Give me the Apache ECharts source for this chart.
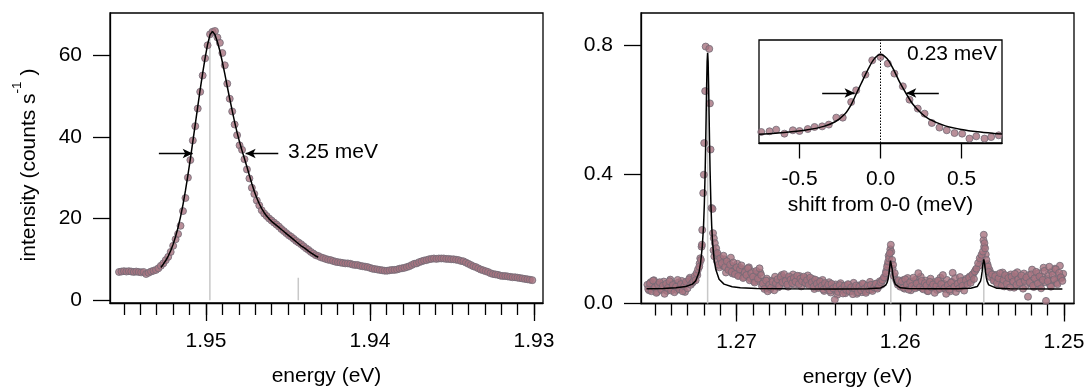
<!DOCTYPE html>
<html>
<head>
<meta charset="utf-8">
<script src="https://cdn.jsdelivr.net/npm/echarts@6.0.0/dist/echarts.min.js"></script>
<style>
  html, body { margin: 0; padding: 0; background: #fff; }
  #chart { width: 1086px; height: 390px; }
</style>
</head>
<body>
<div id="chart"></div>
<script>
// ---------- Left panel: broad emission band ----------
const leftEnergy = [
  1.95530,1.95515,1.95500,1.95485,1.95470,1.95455,1.95440,1.95425,1.95410,1.95395,
  1.95380,1.95365,1.95350,1.95335,1.95320,1.95305,1.95290,1.95275,1.95260,1.95245,
  1.95230,1.95215,1.95200,1.95185,1.95170,1.95155,1.95140,1.95125,1.95110,1.95095,
  1.95080,1.95065,1.95050,1.95035,1.95020,1.95005,1.94990,1.94975,1.94960,1.94945,
  1.94930,1.94915,1.94900,1.94885,1.94870,1.94855,1.94840,1.94825,1.94810,1.94795,
  1.94780,1.94765,1.94750,1.94735,1.94720,1.94705,1.94690,1.94675,1.94660,1.94645,
  1.94630,1.94615,1.94600,1.94585,1.94570,1.94555,1.94540,1.94525,1.94510,1.94495,
  1.94480,1.94465,1.94450,1.94435,1.94420,1.94405,1.94390,1.94375,1.94360,1.94345,
  1.94330,1.94315,1.94300,1.94285,1.94270,1.94255,1.94240,1.94225,1.94210,1.94195,
  1.94180,1.94165,1.94150,1.94135,1.94120,1.94105,1.94090,1.94075,1.94060,1.94045,
  1.94030,1.94015,1.94000,1.93985,1.93970,1.93955,1.93940,1.93925,1.93910,1.93895,
  1.93880,1.93865,1.93850,1.93835,1.93820,1.93805,1.93790,1.93775,1.93760,1.93745,
  1.93730,1.93715,1.93700,1.93685,1.93670,1.93655,1.93640,1.93625,1.93610,1.93595,
  1.93580,1.93565,1.93550,1.93535,1.93520,1.93505,1.93490,1.93475,1.93460,1.93445,
  1.93430,1.93415,1.93400,1.93385,1.93370,1.93355,1.93340,1.93325,1.93310,1.93295,
  1.93280,1.93265,1.93250,1.93235,1.93220,1.93205,1.93190,1.93175,1.93160,1.93145,
  1.93130,1.93115,1.93100,1.93085,1.93070,1.93055,1.93040,1.93025,1.93010
];
const leftIntensity = [
  6.9,7.0,7.1,7.0,7.1,7.0,6.9,7.0,6.9,6.8,
  6.9,6.4,6.7,7.0,7.2,7.4,7.8,8.4,9.0,9.8,
  10.6,11.8,13.3,14.9,16.2,18.2,21.8,25.0,30.0,34.3,
  39.1,42.6,46.9,51.0,55.0,59.2,62.4,65.1,65.7,65.9,
  64.3,63.0,60.5,57.5,53.0,49.3,46.2,43.0,40.4,37.9,
  36.8,34.5,32.0,29.8,27.5,26.0,24.4,23.2,22.0,21.2,
  20.6,20.0,19.5,19.0,18.5,18.0,17.4,16.9,16.4,15.9,
  15.5,15.0,14.5,14.1,13.7,13.2,12.7,12.3,11.8,11.4,
  11.0,10.8,10.5,10.3,10.1,9.9,9.8,9.6,9.4,9.3,
  9.2,9.1,9.0,9.0,8.9,8.7,8.6,8.6,8.4,8.3,
  8.2,8.1,7.9,7.7,7.6,7.5,7.4,7.3,7.2,7.2,
  7.3,7.4,7.4,7.5,7.7,7.8,7.9,8.1,8.3,8.6,
  8.9,9.0,9.3,9.5,9.7,9.8,10.0,10.1,10.2,10.1,
  10.2,10.2,10.2,10.1,10.1,10.0,10.0,9.9,9.8,9.6,
  9.5,9.2,8.9,8.6,8.3,8.1,7.8,7.5,7.3,7.1,
  6.9,6.6,6.4,6.3,6.2,6.0,5.9,5.9,5.8,5.7,
  5.6,5.6,5.5,5.4,5.3,5.2,5.1,5.0,4.9
];
// fitted profile, sampled on leftEnergy[17] .. leftEnergy[81]
const leftFitRange = [17, 82];
const leftFit = [
  8.0,8.8,9.7,10.8,12.1,13.7,15.6,17.8,20.4,23.4,
  26.8,30.6,34.6,38.8,43.1,47.4,51.6,55.6,59.3,62.6,
  65.0,65.8,65.0,63.2,61.0,58.3,55.4,52.3,49.3,46.4,
  43.6,41.0,38.7,36.6,34.6,32.6,30.5,28.5,26.6,25.0,
  23.6,22.4,21.4,20.6,19.9,19.3,18.8,18.3,17.8,17.3,
  16.8,16.3,15.8,15.3,14.8,14.3,13.8,13.3,12.9,12.5,
  12.0,11.6,11.2,10.8,10.5
];
const leftStickEnergy = [1.94976, 1.94437];
const leftStickHeight = [65.8, 5.5];
const leftHalfMax = 35.9;
const leftArrowTails = [1.95287, 1.94559];
const leftArrowTips = [1.95081, 1.94758];
const leftWidthLabel = '3.25 meV';
const leftXMajor = [1.95, 1.94, 1.93];
const leftXMinor = [1.955,1.954,1.953,1.952,1.951,1.950,1.949,1.948,1.947,1.946,1.945,1.944,1.943,
                    1.942,1.941,1.940,1.939,1.938,1.937,1.936,1.935,1.934,1.933,1.932,1.931,1.930];
const leftYTicks = [0, 20, 40, 60];

// ---------- Right panel: narrow zero-phonon line and replicas ----------
// first scan
const rightEnergy = [
  1.2754,1.2753,1.2752,1.2751,1.2750,1.2749,1.2748,1.2747,1.2746,1.2745,
  1.2744,1.2743,1.2742,1.2741,1.2740,1.2739,1.2738,1.2737,1.2736,1.2735,
  1.2734,1.2733,1.2732,1.2731,1.2730,1.2729,1.2728,
  1.2727,1.27264,1.27256,1.27250,1.27244,1.27236,1.27228,1.27222,1.27218,1.27214,
  1.27212,1.27210,1.27204,1.27200,1.27198,1.27192,1.27189,1.27167,1.27163,1.27159,
  1.27153,1.27147,1.27144,1.27139,1.27133,1.27125,1.27117,1.27110,1.27100,1.27090,
  1.2708,1.2707,1.2706,1.2705,1.2704,1.2703,1.2702,1.2701,1.2700,1.2699,
  1.2698,1.2697,1.2696,1.2695,1.2694,1.2693,1.2692,1.2691,1.2690,1.2689,
  1.2688,1.2687,1.2686,1.2685,
  1.2684,1.2683,1.2682,1.2681,1.2680,1.2679,1.2678,1.2677,1.2676,1.2675,
  1.2674,1.2673,1.2672,1.2671,1.2670,1.2669,1.2668,1.2667,1.2666,1.2665,
  1.2664,1.2663,1.2662,1.2661,1.2660,1.2659,1.2658,1.2657,1.2656,1.2655,
  1.2654,1.2653,1.2652,1.2651,1.2650,1.2649,1.2648,1.2647,1.2646,1.2645,
  1.2644,1.2643,1.2642,1.2641,1.2640,1.2639,1.2638,1.2637,1.2636,1.2635,
  1.2634,1.2633,1.2632,1.2631,1.2630,1.2629,1.2628,1.2627,1.2626,1.2625,
  1.2624,1.2623,1.2622,1.2621,1.2620,1.2619,1.2618,1.2617,1.2616,1.2615,
  1.2614,1.2613,1.2612,1.2611,1.2610,
  1.26089,1.26081,1.26074,1.26068,1.26064,1.26058,1.26050,1.26044,1.26034,1.2602,
  1.2601,1.2600,
  1.2599,1.2598,1.2597,1.2596,1.2595,1.2594,1.2593,1.2592,1.2591,1.2590,
  1.2589,1.2588,1.2587,1.2586,1.2585,1.2584,1.2583,1.2582,1.2581,1.2580,
  1.2579,1.2578,1.2577,1.2576,1.2575,1.2574,1.2573,1.2572,1.2571,1.2570,
  1.2569,1.2568,1.2567,1.2566,1.2565,1.2564,1.2563,1.2562,1.2561,1.2560,
  1.2559,1.2558,1.2557,1.2556,1.2555,
  1.25545,1.25535,1.25525,1.25515,1.25504,1.25495,1.25490,1.25486,1.25482,1.25474,
  1.25464,1.2546,1.2545,1.2544,1.2543,
  1.2542,1.2541,1.2540,1.2539,1.2538,1.2537,1.2536,1.2535,1.2534,1.2533,
  1.2532,1.2531,1.2530,1.2529,1.2528,1.2527,1.2526,1.2525,1.2524,1.2523,
  1.2522,1.2521,1.2520,1.2519,1.2518,1.2517,1.2516,1.2515,1.2514,1.2513,
  1.2512,1.2511,1.2510,1.2509,1.2508,1.2507,1.2506,1.2505,1.2504,1.2503,
  1.2502,1.2501
];
const rightIntensity = [
  0.045,0.062,0.038,0.071,0.050,0.033,0.058,0.066,0.042,0.055,
  0.030,0.061,0.048,0.069,0.040,0.057,0.035,0.052,0.073,0.044,
  0.060,0.038,0.054,0.067,0.047,0.075,0.058,
  0.064,0.068,0.085,0.072,0.094,0.105,0.114,0.140,0.135,0.176,
  0.182,0.228,0.342,0.399,0.497,0.658,0.796,0.789,0.620,0.477,
  0.296,0.293,0.218,0.202,0.187,0.171,0.156,0.120,0.140,0.125,
  0.148,0.113,0.131,0.104,0.120,0.098,0.127,0.091,0.112,0.085,
  0.106,0.118,0.079,0.097,0.088,0.109,0.072,0.094,0.083,0.065,
  0.101,0.077,0.109,0.088,
  0.062,0.045,0.071,0.038,0.058,0.049,0.067,0.041,0.063,0.075,
  0.054,0.082,0.066,0.091,0.070,0.059,0.084,0.074,0.063,0.079,
  0.068,0.086,0.060,0.077,0.069,0.083,0.064,0.072,0.057,0.080,
  0.066,0.052,0.074,0.061,0.048,0.068,0.055,0.043,0.063,0.050,
  0.058,0.040,0.061,0.047,0.012,0.053,0.036,0.057,0.044,0.031,
  0.055,0.042,0.060,0.038,0.050,0.029,0.047,0.056,0.035,0.052,
  0.041,0.062,0.045,0.033,0.055,0.043,0.058,0.039,0.050,0.061,
  0.046,0.054,0.066,0.072,0.081,
  0.094,0.114,0.130,0.140,0.156,0.182,0.135,0.120,0.094,0.066,
  0.072,0.052,
  0.068,0.049,0.075,0.058,0.043,0.066,0.054,0.080,0.047,0.062,
  0.094,0.051,0.070,0.044,0.063,0.056,0.038,0.067,0.050,0.059,
  0.033,0.054,0.071,0.045,0.060,0.088,0.048,0.030,0.057,0.043,
  0.065,0.095,0.052,0.036,0.061,0.047,0.069,0.055,0.040,0.072,
  0.058,0.080,0.064,0.089,0.076,
  0.099,0.108,0.125,0.140,0.151,0.161,0.213,0.187,0.171,0.135,
  0.114,0.098,0.082,0.090,0.071,
  0.085,0.063,0.078,0.094,0.056,0.073,0.088,0.061,0.079,0.050,
  0.083,0.068,0.092,0.058,0.075,0.064,0.087,0.046,0.070,0.081,
  0.021,0.066,0.090,0.055,0.078,0.098,0.062,0.084,0.047,0.073,
  0.101,0.008,0.069,0.114,0.052,0.089,0.075,0.106,0.060,0.095,
  0.081,0.070
];
// second scan, interleaved with the first
const rightScan2Energy = [
  1.27545,1.27535,1.27525,1.27515,1.27505,1.27495,1.27485,1.27475,1.27465,1.27455,
  1.27445,1.27435,1.27425,1.27415,1.27405,1.27395,1.27385,1.27375,1.27365,1.27355,
  1.27345,1.27335,1.27325,1.27315,1.27305,1.27295,1.27285,
  1.27275,1.27260,1.27240,1.27226,
  1.27141,1.27136,1.27128,1.27120,1.27113,1.27105,1.27095,
  1.27085,1.27075,1.27065,1.27055,1.27045,1.27035,1.27025,1.27015,1.27005,1.26995,
  1.26985,1.26975,1.26965,1.26955,1.26945,1.26935,1.26925,1.26915,1.26905,1.26895,
  1.26885,1.26875,1.26865,1.26855,
  1.26845,1.26835,1.26825,1.26815,1.26805,1.26795,1.26785,1.26775,1.26765,1.26755,
  1.26745,1.26735,1.26725,1.26715,1.26705,1.26695,1.26685,1.26675,1.26665,1.26655,
  1.26645,1.26635,1.26625,1.26615,1.26605,1.26595,1.26585,1.26575,1.26565,1.26555,
  1.26545,1.26535,1.26525,1.26515,1.26505,1.26495,1.26485,1.26475,1.26465,1.26455,
  1.26445,1.26435,1.26425,1.26415,1.26405,1.26395,1.26385,1.26375,1.26365,1.26355,
  1.26345,1.26335,1.26325,1.26315,1.26305,1.26295,1.26285,1.26275,1.26265,1.26255,
  1.26245,1.26235,1.26225,1.26215,1.26205,1.26195,1.26185,1.26175,1.26165,1.26155,
  1.26145,1.26135,1.26125,1.26115,1.26105,
  1.26095,1.26086,1.26077,1.26071,1.26061,1.26055,1.26047,1.26039,1.26025,1.26015,
  1.26005,
  1.25995,1.25985,1.25975,1.25965,1.25955,1.25945,1.25935,1.25925,1.25915,1.25905,
  1.25895,1.25885,1.25875,1.25865,1.25855,1.25845,1.25835,1.25825,1.25815,1.25805,
  1.25795,1.25785,1.25775,1.25765,1.25755,1.25745,1.25735,1.25725,1.25715,1.25705,
  1.25695,1.25685,1.25675,1.25665,1.25655,1.25645,1.25635,1.25625,1.25615,1.25605,
  1.25595,1.25585,1.25575,1.25565,
  1.25555,1.25540,1.25520,1.25510,1.25500,1.25492,1.25488,1.25478,1.25468,1.25455,
  1.25445,1.25435,
  1.25425,1.25415,1.25405,1.25395,1.25385,1.25375,1.25365,1.25355,1.25345,1.25335,
  1.25325,1.25315,1.25305,1.25295,1.25285,1.25275,1.25265,1.25255,1.25245,1.25235,
  1.25225,1.25215,1.25205,1.25195,1.25185,1.25175,1.25165,1.25155,1.25145,1.25135,
  1.25125,1.25115,1.25105,1.25095,1.25085,1.25075,1.25065,1.25055,1.25045,1.25035,
  1.25025,1.25015,1.25005
];
const rightScan2Intensity = [
  0.058,0.041,0.066,0.052,0.072,0.047,0.036,0.063,0.055,0.044,
  0.068,0.050,0.039,0.059,0.074,0.046,0.061,0.053,0.042,0.065,
  0.049,0.070,0.057,0.036,0.062,0.068,0.080,
  0.071,0.078,0.088,0.124,
  0.165,0.146,0.158,0.131,0.149,0.112,0.134,
  0.118,0.137,0.096,0.124,0.108,0.142,0.093,0.115,0.101,0.123,
  0.087,0.110,0.096,0.082,0.104,0.090,0.112,0.078,0.099,0.069,
  0.091,0.083,0.070,0.095,
  0.054,0.068,0.049,0.077,0.060,0.044,0.071,0.056,0.083,0.065,
  0.050,0.073,0.088,0.061,0.078,0.067,0.052,0.081,0.070,0.090,
  0.058,0.075,0.065,0.085,0.053,0.071,0.079,0.062,0.087,0.068,
  0.058,0.076,0.045,0.064,0.070,0.051,0.060,0.073,0.039,0.057,
  0.048,0.066,0.034,0.052,0.043,0.059,0.027,0.049,0.063,0.040,
  0.054,0.032,0.046,0.058,0.037,0.051,0.064,0.042,0.030,0.056,
  0.047,0.035,0.060,0.049,0.038,0.053,0.067,0.044,0.057,0.048,
  0.062,0.051,0.069,0.058,0.075,
  0.079,0.101,0.121,0.148,0.168,0.160,0.108,0.085,0.072,0.058,
  0.065,
  0.057,0.072,0.046,0.063,0.079,0.052,0.041,0.068,0.059,0.074,
  0.050,0.065,0.083,0.047,0.058,0.071,0.039,0.062,0.077,0.049,
  0.066,0.055,0.042,0.069,0.080,0.051,0.061,0.045,0.073,0.058,
  0.038,0.067,0.054,0.079,0.048,0.063,0.082,0.056,0.070,0.061,
  0.077,0.068,0.084,0.073,
  0.092,0.104,0.117,0.133,0.146,0.196,0.176,0.152,0.122,0.104,
  0.093,0.080,
  0.072,0.089,0.058,0.081,0.067,0.096,0.053,0.076,0.085,0.064,
  0.090,0.071,0.049,0.082,0.097,0.060,0.079,0.068,0.093,0.055,
  0.074,0.088,0.063,0.105,0.051,0.080,0.070,0.094,0.059,0.083,
  0.111,0.066,0.077,0.091,0.057,0.099,0.073,0.108,0.064,0.086,
  0.117,0.079,0.092
];
const rightFitEnergy = [
  1.2755,1.2745,1.2737,1.2731,1.2727,1.2725,1.2723,1.2722,1.2721,1.27202,
  1.27197,1.27192,1.27189,1.27186,1.27183,1.27180,1.27177,1.27174,1.27171,1.27168,
  1.27165,1.27162,1.27157,1.27152,1.27147,1.27137,1.27127,1.27107,1.27077,1.27027,
  1.26977,1.26877,1.2670,1.2640,1.2620,1.2612,1.2609,1.2608,1.26075,1.2607,
  1.26065,1.2606,1.26058,1.2605,1.26045,1.2604,1.2603,1.2600,1.2595,1.2580,
  1.2565,1.2557,1.2553,1.2552,1.2551,1.25505,1.2550,1.25495,1.2549,1.25485,
  1.2548,1.25475,1.2547,1.2546,1.2545,1.2541,1.2533,1.2501
];
const rightFit = [
  0.0460,0.0468,0.0485,0.0525,0.0600,0.0700,0.0960,0.1250,0.175,0.239,
  0.309,0.411,0.491,0.583,0.676,0.749,0.777,0.749,0.676,0.583,
  0.491,0.411,0.309,0.239,0.191,0.135,0.105,0.075,0.060,0.052,
  0.049,0.0465,0.0458,0.0452,0.0456,0.0483,0.0561,0.0656,0.0749,0.090,
  0.112,0.1326,0.135,0.1073,0.0864,0.0727,0.0590,0.0487,0.0461,0.0454,
  0.0455,0.0470,0.0526,0.0577,0.0693,0.0809,0.0993,0.1234,0.137,0.1234,
  0.0993,0.0809,0.0693,0.0577,0.0526,0.0470,0.0455,0.0451
];
const rightStickEnergy = [1.27177, 1.26058, 1.25490];
const rightStickHeight = [0.777, 0.135, 0.137];
const rightXMajor = [1.27, 1.26, 1.25];
const rightXMinor = [1.275,1.274,1.273,1.272,1.271,1.270,1.269,1.268,1.267,1.266,1.265,1.264,1.263,
                     1.262,1.261,1.260,1.259,1.258,1.257,1.256,1.255,1.254,1.253,1.252,1.251,1.250];
const rightYTicks = [0, 0.4, 0.8];

// ---------- Inset: zero-phonon line on a shift scale ----------
const insetShift = [
  -0.736,-0.685,-0.644,-0.593,-0.541,-0.500,-0.449,-0.407,-0.360,-0.319,
  -0.273,-0.233,-0.181,-0.150,-0.093,-0.051,0.000,0.045,0.086,0.138,
  0.179,0.230,0.272,0.317,0.364,0.409,0.457,0.504,0.549,0.591,
  0.642,0.683,0.730
];
const insetIntensity = [
  0.050,0.057,0.073,0.034,0.067,0.060,0.079,0.099,0.105,0.122,
  0.190,0.190,0.342,0.456,0.609,0.748,0.780,0.716,0.619,0.495,
  0.365,0.278,0.229,0.138,0.093,0.067,0.040,0.034,-0.014,0.008,
  -0.014,0.001,0.018
];
const insetFitShift = [
  -0.75,-0.65,-0.55,-0.45,-0.35,-0.28,-0.22,-0.18,-0.15,-0.12,-0.08,-0.04,0.00,
  0.04,0.08,0.12,0.16,0.20,0.25,0.30,0.40,0.50,0.60,0.70,0.75
];
const insetFit = [
  0.028,0.038,0.052,0.072,0.105,0.150,0.225,0.320,0.420,0.520,0.650,0.760,0.805,
  0.765,0.660,0.530,0.420,0.320,0.235,0.175,0.110,0.075,0.052,0.036,0.030
];
const insetHalfMax = 0.43;
const insetArrowTails = [-0.36, 0.36];
const insetArrowTips = [-0.16, 0.159];
const insetWidthLabel = '0.23 meV';
const insetXTicks = [-0.5, 0, 0.5];

// ---------- styling ----------
const FONT = '"Liberation Sans", Arial, Helvetica, sans-serif';
const FS = 21;
const BLACK = '#000';
const txt = (extra) => Object.assign({ color: BLACK, fontSize: FS, fontFamily: FONT }, extra || {});
const axisLineStyle = { color: BLACK, width: 1.3 };
const dotStyle = { color: '#a8737f', borderColor: '#726a76', borderWidth: 1 };

const pairs = (xs, ys) => xs.map((x, i) => [x, ys[i]]);

function energyAxes(grid, min, max, major, minor) {
  return [
    {
      gridIndex: grid, type: 'value', position: 'bottom', inverse: true, min, max,
      axisLine: { show: true, onZero: false, lineStyle: axisLineStyle },
      axisTick: { show: true, length: 18, customValues: major, lineStyle: axisLineStyle },
      axisLabel: Object.assign({ show: true, customValues: major, margin: 28,
                                 formatter: v => v.toFixed(2) }, txt()),
      splitLine: { show: false },
      name: 'energy (eV)', nameLocation: 'middle', nameGap: 63, nameTextStyle: txt()
    },
    {
      gridIndex: grid, type: 'value', position: 'bottom', inverse: true, min, max,
      axisLine: { show: false, onZero: false },
      axisTick: { show: true, length: 12, customValues: minor, lineStyle: axisLineStyle },
      axisLabel: { show: false },
      splitLine: { show: false }
    }
  ];
}

function sticks(xi, yi, es, hs) {
  return es.map((e, i) => ({
    type: 'line', xAxisIndex: xi, yAxisIndex: yi, data: [[e, 0], [e, hs[i]]],
    symbol: 'none', silent: true, z: 1,
    lineStyle: { color: '#c8c8c8', width: 1.5 }
  }));
}

function arrowLines(y, tails, tips) {
  return tails.map((t, i) => [{ coord: [t, y] }, { coord: [tips[i], y] }]);
}

function dots(xi, yi, xs, ys) {
  return {
    type: 'scatter', xAxisIndex: xi, yAxisIndex: yi, z: 2, silent: true,
    symbol: 'circle', symbolSize: 7, itemStyle: dotStyle, data: pairs(xs, ys)
  };
}

const option = {
  animation: false,
  backgroundColor: '#fff',
  grid: [
    { left: 110, top: 13, width: 433, height: 290, show: true, borderColor: BLACK, borderWidth: 1.3, outerBoundsMode: 'none' },
    { left: 641, top: 13, width: 433, height: 290.5, show: true, borderColor: BLACK, borderWidth: 1.3, outerBoundsMode: 'none' },
    { left: 759, top: 40, width: 243, height: 103, show: true, borderColor: BLACK, borderWidth: 1.3,
      backgroundColor: '#fff', outerBoundsMode: 'none' }
  ],
  xAxis: [
    ...energyAxes(0, 1.92945, 1.95585, leftXMajor, leftXMinor),
    ...energyAxes(1, 1.24939, 1.27584, rightXMajor, rightXMinor),
    {
      gridIndex: 2, type: 'value', position: 'bottom', min: -0.75, max: 0.75,
      axisLine: { show: true, onZero: false, lineStyle: axisLineStyle },
      axisTick: { show: true, length: 15.5, customValues: insetXTicks, lineStyle: axisLineStyle },
      axisLabel: Object.assign({ customValues: insetXTicks, margin: 26, formatter: v => v.toFixed(1) }, txt()),
      splitLine: { show: false },
      name: 'shift from 0-0 (meV)', nameLocation: 'middle', nameGap: 52, nameTextStyle: txt()
    }
  ],
  yAxis: [
    {
      gridIndex: 0, type: 'value', min: -0.7, max: 70.3,
      axisLine: { show: true, onZero: false, lineStyle: axisLineStyle },
      axisTick: { show: true, length: 17, customValues: leftYTicks, lineStyle: axisLineStyle },
      axisLabel: Object.assign({ customValues: leftYTicks, margin: 28 }, txt()),
      splitLine: { show: false },
      name: '{a|intensity (counts s}{b|-1}{a| )}', nameLocation: 'middle', nameGap: 70,
      nameTextStyle: {
        padding: [0, 14, 0, 0],
        rich: {
          a: { fontSize: FS, fontFamily: FONT, color: BLACK, lineHeight: 30, verticalAlign: 'bottom' },
          b: { fontSize: 13.5, fontFamily: FONT, color: BLACK, lineHeight: 13, verticalAlign: 'top' }
        }
      }
    },
    {
      gridIndex: 1, type: 'value', min: 0, max: 0.9,
      axisLine: { show: true, onZero: false, lineStyle: axisLineStyle },
      axisTick: { show: true, length: 17, customValues: rightYTicks, lineStyle: axisLineStyle },
      axisLabel: Object.assign({ customValues: rightYTicks, margin: 28, formatter: v => v.toFixed(1) }, txt()),
      splitLine: { show: false }
    },
    { gridIndex: 2, type: 'value', min: -0.057, max: 0.946, show: false }
  ],
  series: [
    // left panel
    ...sticks(0, 0, leftStickEnergy, leftStickHeight),
    dots(0, 0, leftEnergy, leftIntensity),
    {
      type: 'line', xAxisIndex: 0, yAxisIndex: 0, z: 3, silent: true, symbol: 'none',
      lineStyle: { color: BLACK, width: 1.5 },
      data: pairs(leftEnergy.slice(leftFitRange[0], leftFitRange[1]), leftFit),
      markLine: {
        silent: true, symbol: ['none', 'arrow'], symbolSize: [7, 10],
        lineStyle: { color: BLACK, width: 1.3, type: 'solid' }, label: { show: false },
        data: arrowLines(leftHalfMax, leftArrowTails, leftArrowTips)
      }
    },
    // right panel
    ...sticks(2, 1, rightStickEnergy, rightStickHeight),
    dots(2, 1, rightScan2Energy, rightScan2Intensity),
    dots(2, 1, rightEnergy, rightIntensity),
    {
      type: 'line', xAxisIndex: 2, yAxisIndex: 1, z: 3, silent: true, symbol: 'none',
      lineStyle: { color: BLACK, width: 1.5 },
      data: pairs(rightFitEnergy, rightFit)
    },
    // inset
    {
      type: 'line', xAxisIndex: 4, yAxisIndex: 2, z: 1, silent: true, symbol: 'none',
      lineStyle: { color: BLACK, width: 1, type: [1.5, 1.5] },
      data: [[0, -0.057], [0, 0.946]]
    },
    dots(4, 2, insetShift, insetIntensity),
    {
      type: 'line', xAxisIndex: 4, yAxisIndex: 2, z: 3, silent: true, symbol: 'none', smooth: 0.3,
      lineStyle: { color: BLACK, width: 1.5 },
      data: pairs(insetFitShift, insetFit),
      markLine: {
        silent: true, symbol: ['none', 'arrow'], symbolSize: [7, 10],
        lineStyle: { color: BLACK, width: 1.3, type: 'solid' }, label: { show: false },
        data: arrowLines(insetHalfMax, insetArrowTails, insetArrowTips)
      }
    }
  ],
  graphic: [
    { type: 'text', left: 288, top: 142, silent: true,
      style: { text: leftWidthLabel, fill: BLACK, font: FS + 'px ' + FONT } },
    { type: 'text', right: 89, top: 44, silent: true, z: 10,
      style: { text: insetWidthLabel, fill: BLACK, font: FS + 'px ' + FONT } }
  ]
};

const chart = echarts.init(document.getElementById('chart'), null, { renderer: 'canvas' });
chart.setOption(option);
</script>
</body>
</html>
